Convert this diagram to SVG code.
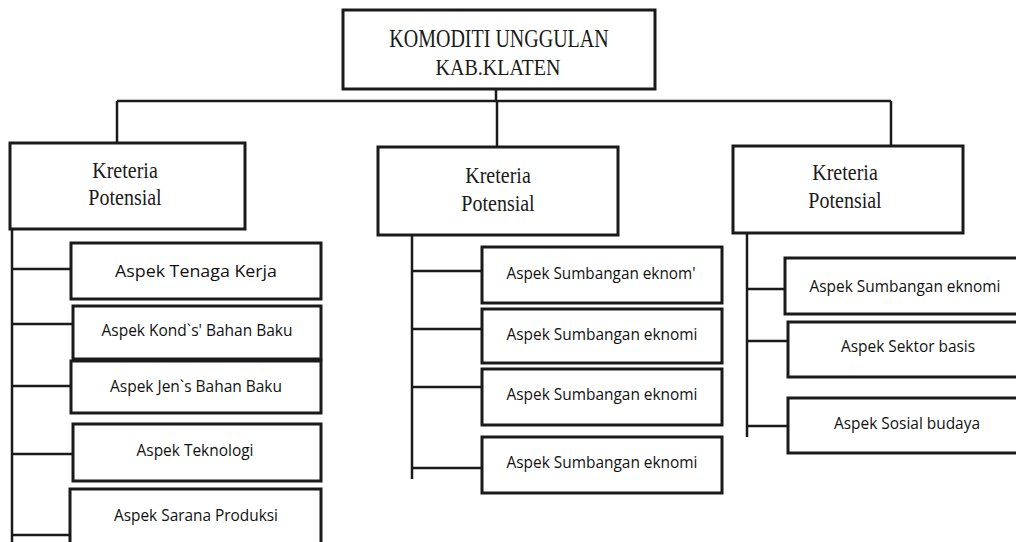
<svg xmlns="http://www.w3.org/2000/svg" width="1016" height="542" viewBox="0 0 1016 542">
<style>
.box{fill:#fff;stroke:#1a1a1a;stroke-width:3}
.ln{stroke:#1a1a1a;stroke-width:2.5;fill:none}
.ser{font-family:"Liberation Serif",serif;font-size:20px;fill:#1a1a1a;text-anchor:middle}
.san{font-family:"Open Sans","Liberation Sans",sans-serif;font-size:16px;fill:#111;text-anchor:middle}
</style>
<rect width="1016" height="542" fill="#fff"/>
<g id="connectors" class="ln">
<path d="M496 89V101M117 101H891M117 101V143M497 101V147M891 101V146"/>
<path d="M12 229V542M12 269H71M12 324H73M12 386H71M12 454H73M12 535H70"/>
<path d="M412 235V479M412 271H482M412 329H482M412 387H482M412 468H482"/>
<path d="M747 233V437M747 289H785M747 341H788M747 426H788"/>
</g>
<g id="root">
<rect class="box" x="343" y="10" width="312" height="79"/>
<text class="ser" transform="translate(499,47) scale(1,1.3)">KOMODITI UNGGULAN</text>
<text class="ser" transform="translate(498,75) scale(1,1.15)">KAB.KLATEN</text>
</g>
<g id="k1">
<rect class="box" x="10" y="143" width="235" height="86"/>
<text class="ser" transform="translate(125,178) scale(1,1.15)">Kreteria</text>
<text class="ser" transform="translate(125,205) scale(1,1.15)">Potensial</text>
</g>
<g id="k2">
<rect class="box" x="378" y="147" width="240" height="88"/>
<text class="ser" transform="translate(498,183) scale(1,1.15)">Kreteria</text>
<text class="ser" transform="translate(498,211) scale(1,1.15)">Potensial</text>
</g>
<g id="k3">
<rect class="box" x="733" y="146" width="230" height="87"/>
<text class="ser" transform="translate(845,180) scale(1,1.15)">Kreteria</text>
<text class="ser" transform="translate(845,208) scale(1,1.15)">Potensial</text>
</g>
<g id="l1"><rect class="box" x="71" y="243" width="250" height="56"/><text class="san" x="196" y="277" font-size="18" textLength="162" lengthAdjust="spacingAndGlyphs">Aspek Tenaga Kerja</text></g>
<g id="l2"><rect class="box" x="73" y="306" width="248" height="53"/><text class="san" x="197" y="336" textLength="191" lengthAdjust="spacingAndGlyphs">Aspek Kond`s' Bahan Baku</text></g>
<g id="l3"><rect class="box" x="71" y="361" width="250" height="52"/><text class="san" x="196" y="392" textLength="172" lengthAdjust="spacingAndGlyphs">Aspek Jen`s Bahan Baku</text></g>
<g id="l4"><rect class="box" x="73" y="424" width="248" height="57"/><text class="san" x="195" y="456" textLength="117" lengthAdjust="spacingAndGlyphs">Aspek Teknologi</text></g>
<g id="l5"><rect class="box" x="70" y="489" width="251" height="70"/><text class="san" x="196" y="521" textLength="164" lengthAdjust="spacingAndGlyphs">Aspek Sarana Produksi</text></g>
<g id="m1"><rect class="box" x="482" y="247" width="240" height="56"/><text class="san" x="601" y="279" textLength="189" lengthAdjust="spacingAndGlyphs">Aspek Sumbangan eknom'</text></g>
<g id="m2"><rect class="box" x="482" y="309" width="240" height="54"/><text class="san" x="602" y="340" textLength="191" lengthAdjust="spacingAndGlyphs">Aspek Sumbangan eknomi</text></g>
<g id="m3"><rect class="box" x="482" y="369" width="240" height="56"/><text class="san" x="602" y="400" textLength="191" lengthAdjust="spacingAndGlyphs">Aspek Sumbangan eknomi</text></g>
<g id="m4"><rect class="box" x="482" y="437" width="240" height="56"/><text class="san" x="602" y="468" textLength="191" lengthAdjust="spacingAndGlyphs">Aspek Sumbangan eknomi</text></g>
<g id="r1"><rect class="box" x="785" y="258" width="240" height="56"/><text class="san" x="905" y="292" textLength="191" lengthAdjust="spacingAndGlyphs">Aspek Sumbangan eknomi</text></g>
<g id="r2"><rect class="box" x="788" y="322" width="237" height="55"/><text class="san" x="908" y="352" textLength="134" lengthAdjust="spacingAndGlyphs">Aspek Sektor basis</text></g>
<g id="r3"><rect class="box" x="788" y="398" width="237" height="55"/><text class="san" x="907" y="429" textLength="146" lengthAdjust="spacingAndGlyphs">Aspek Sosial budaya</text></g>
</svg>
